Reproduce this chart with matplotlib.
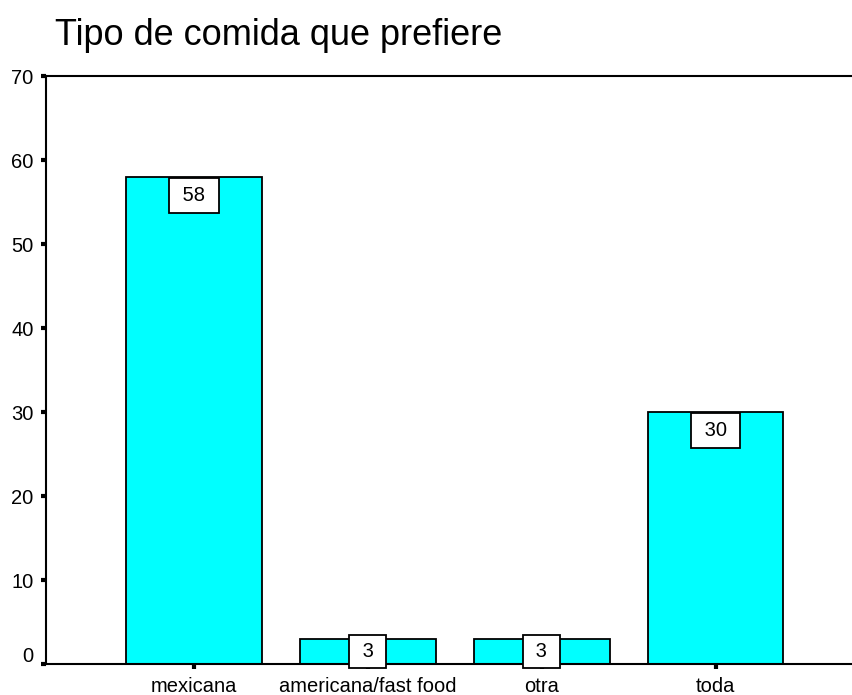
import matplotlib
matplotlib.use("Agg")
import matplotlib.pyplot as plt
import matplotlib.transforms as mtransforms

categories = ["mexicana", "americana/fast food", "otra", "toda"]
values = [58, 3, 3, 30]
yticks = [0, 10, 20, 30, 40, 50, 60, 70]
title = "Tipo de comida que prefiere"

plt.rcParams['font.family'] = ['Liberation Sans', 'DejaVu Sans']

fig = plt.figure(figsize=(8.53, 6.95), dpi=100)
ax = fig.add_axes([46/853, 1-664/695, 1-46/853, (664-76)/695])

x = list(range(len(categories)))
ax.bar(x, values, width=0.78, color='#00ffff', edgecolor='black', linewidth=1.3, zorder=2)

ax.set_xlim(-0.85, 3.79)
ax.set_ylim(0, 70)
ax.set_yticks(yticks)
ax.set_yticklabels([str(t) for t in yticks])
ax.set_xticks(x)
ax.set_xticklabels(categories)

for s in ['left', 'top', 'bottom']:
    ax.spines[s].set_linewidth(1.5)
    ax.spines[s].set_zorder(3)
ax.spines['right'].set_visible(False)

ax.tick_params(axis='both', direction='out', length=3.5, width=3, labelsize=14.5, colors='black')
ax.tick_params(axis='y', pad=5.5)
ax.tick_params(axis='x', pad=5.5)

# raise the "0" label a bit as in the reference
lbl0 = ax.get_yticklabels()[0]
lbl0.set_transform(lbl0.get_transform() + mtransforms.ScaledTranslation(0, 10/100, fig.dpi_scale_trans))

fs = 14.5
for xi, v in zip(x, values):
    if v >= 10:
        ax.annotate(f" {v} ", xy=(xi, v), xytext=(0, -6.5), textcoords='offset points',
                    ha='center', va='top', fontsize=fs, zorder=4,
                    bbox=dict(boxstyle='square,pad=0.4', fc='white', ec='black', lw=1.3))
    else:
        ax.annotate(f" {v} ", xy=(xi, v / 2), xytext=(0, 0), textcoords='offset points',
                    ha='center', va='center', fontsize=fs, zorder=4,
                    bbox=dict(boxstyle='square,pad=0.35', fc='white', ec='black', lw=1.3))

fig.text(55/853, 1-45/695, title, fontsize=26, ha='left', va='baseline')

fig.savefig("out.png", dpi=100)
